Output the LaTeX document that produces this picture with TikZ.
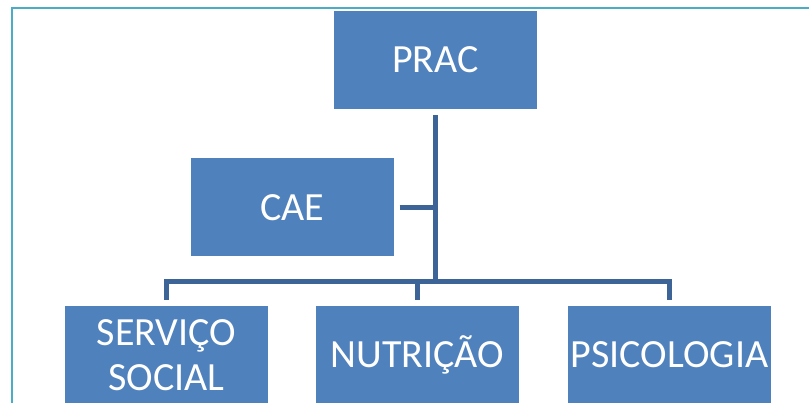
\documentclass[tikz,border=0pt]{standalone}
\usepackage{fontspec}
\setmainfont{Carlito}
\definecolor{boxblue}{RGB}{79,129,189}
\definecolor{linkblue}{RGB}{61,100,150}
\definecolor{framecyan}{RGB}{75,172,198}

\begin{document}
\begin{tikzpicture}[
    x=1pt, y=1pt,
    box/.style={fill=boxblue, text=white, inner sep=0pt, outer sep=6pt,
                minimum width=203pt, minimum height=98pt, align=center,
                font=\fontsize{40}{45}\selectfont},
    link/.style={draw=linkblue, line width=5pt, line join=miter},
]

    \path[use as bounding box, clip] (0,0) rectangle (809,-403);
    \draw[framecyan, line width=2pt] (12,-8) rectangle (830,-430);

    \node[box] (prac) at (435.5,-60) {PRAC};
    \node[box] (cae) at (292,-207.5) {CAE};
    \node[box] (social) at (166.5,-355) {SERVIÇO\\SOCIAL};
    \node[box] (nutri) at (417.5,-355) {NUTRIÇÃO};
    \node[box] (psico) at (669.5,-355) {PSICOLOGIA};

    \coordinate (bus) at (435.5,-281.5);

    \draw[link] (prac.south) -- (bus);
    \draw[link] (cae.east) -- (cae.east -| bus);
    \draw[link] (social.north) |- (bus) -| (psico.north);
    \draw[link] (nutri.north) -- (nutri.north |- bus);

\end{tikzpicture}
\end{document}
